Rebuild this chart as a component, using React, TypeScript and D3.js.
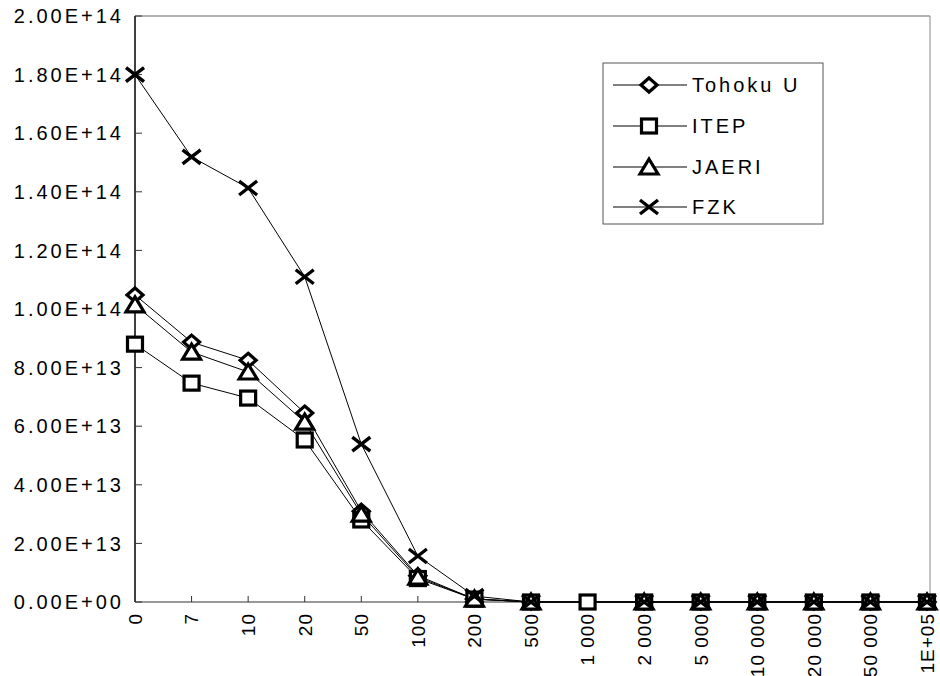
import React from "react";
import * as d3 from "d3";

const categories = ["0", "7", "10", "20", "50", "100", "200", "500", "1 000", "2 000", "5 000", "10 000", "20 000", "50 000", "1E+05"];
const tohoku: (number | null)[] = [1.048e14, 8.87e13, 8.25e13, 6.45e13, 3.1e13, 9.0e12, 1.0e12, 0, null, 0, 0, 0, 0, 0, 0];
const itep: (number | null)[] = [8.8e13, 7.47e13, 6.96e13, 5.53e13, 2.8e13, 8.0e12, 1.0e12, 0, 0, 0, 0, 0, 0, 0, 0];
const jaeri: (number | null)[] = [1.014e14, 8.53e13, 7.85e13, 6.14e13, 3.0e13, 8.5e12, 1.0e12, 0, null, 0, 0, 0, 0, 0, 0];
const fzk: (number | null)[] = [1.8e14, 1.519e14, 1.413e14, 1.11e14, 5.39e13, 1.57e13, 2.0e12, 0, null, 0, 0, 0, 0, 0, 0];
const yTickValues = [0, 2e13, 4e13, 6e13, 8e13, 1e14, 1.2e14, 1.4e14, 1.6e14, 1.8e14, 2e14];
const yTickLabels = ["0.00E+00", "2.00E+13", "4.00E+13", "6.00E+13", "8.00E+13", "1.00E+14", "1.20E+14", "1.40E+14", "1.60E+14", "1.80E+14", "2.00E+14"];
const seriesNames = ["Tohoku U", "ITEP", "JAERI", "FZK"];
const seriesMarkers = ["diamond", "square", "triangle", "cross"];
const seriesValues = [tohoku, itep, jaeri, fzk];

const W = 940, H = 676;
const left = 135, right = 928, top = 16, bottom = 602;
const FONT = "'Liberation Sans', Arial, Helvetica, sans-serif";

function Marker({ kind, x, y }: { kind: string; x: number; y: number }) {
  const sw = 3.2;
  if (kind === "diamond") {
    return <path d={`M${x},${y - 7} L${x + 8},${y} L${x},${y + 7} L${x - 8},${y} Z`} fill="#fff" stroke="#000" strokeWidth={sw} />;
  }
  if (kind === "square") {
    return <rect x={x - 7.5} y={y - 7} width={15} height={14} fill="#fff" stroke="#000" strokeWidth={sw} />;
  }
  if (kind === "triangle") {
    return <path d={`M${x},${y - 8} L${x + 9},${y + 7} L${x - 9},${y + 7} Z`} fill="#fff" stroke="#000" strokeWidth={sw} strokeLinejoin="miter" />;
  }
  return (
    <path d={`M${x - 9},${y - 7} L${x + 9},${y + 7} M${x - 9},${y + 7} L${x + 9},${y - 7}`} fill="none" stroke="#000" strokeWidth={3.4} />
  );
}

export default function App() {
  const x = d3.scalePoint<string>().domain(categories).range([left, right - 1]);
  const y = d3.scaleLinear().domain([0, 2e14]).range([bottom, top]);

  const line = d3
    .line<[string, number | null]>()
    .defined((d) => d[1] !== null)
    .x((d) => x(d[0]) as number)
    .y((d) => y(d[1] as number));

  const legendX = 603, legendY = 63, legendW = 220, legendH = 161;
  const legendRows = [85, 126, 167, 207].map((v, i) => ({ v, i }));

  return (
    <div style={{ position: "absolute", left: 0, top: 0 }}>
      <svg width={W} height={H} style={{ display: "block", background: "#fff" }} fontFamily={FONT}>
        <rect x={0} y={0} width={W} height={H} fill="#fff" />
        {/* plot frame */}
        <line x1={left} y1={top} x2={right + 2} y2={top} stroke="#666" strokeWidth={1} />
        <line x1={right + 2} y1={top} x2={right + 2} y2={bottom} stroke="#888" strokeWidth={1} />
        <line x1={left} y1={bottom} x2={right + 2} y2={bottom} stroke="#333" strokeWidth={1.2} />
        <line x1={left} y1={top} x2={left} y2={bottom} stroke="#000" strokeWidth={1.5} />

        {/* y ticks and labels */}
        {yTickValues.map((v, i) => (
          <g key={"yt" + i}>
            <line x1={left} x2={left + 7} y1={y(v)} y2={y(v)} stroke="#333" strokeWidth={1} />
            <text x={124} y={y(v)} dy="0.36em" textAnchor="end" fontSize={20} letterSpacing={3} fill="#000">
              {yTickLabels[i]}
            </text>
          </g>
        ))}

        {/* x ticks and labels */}
        {categories.map((c, i) => (
          <g key={"xt" + i}>
            {i > 0 && <line x1={x(c)} x2={x(c)} y1={bottom} y2={bottom - 6} stroke="#333" strokeWidth={1} />}
            <text
              transform={`translate(${x(c)},${bottom + 11}) rotate(-90)`}
              dy="0.36em"
              textAnchor="end"
              fontSize={19}
              letterSpacing={1}
              fill="#000"
            >
              {c}
            </text>
          </g>
        ))}

        {/* lines */}
        {seriesValues.map((vals, si) => {
          const pts = categories.map((c, i) => [c, vals[i]] as [string, number | null]).filter((d) => d[1] !== null);
          return <path key={"l" + si} d={line(pts) || ""} fill="none" stroke="#000" strokeWidth={1} />;
        })}

        {/* markers */}
        {seriesValues.map((vals, si) => (
          <g key={"m" + si}>
            {categories.map((c, i) =>
              vals[i] === null ? null : <Marker key={i} kind={seriesMarkers[si]} x={x(c) as number} y={y(vals[i] as number)} />
            )}
          </g>
        ))}

        {/* legend */}
        <rect x={legendX} y={legendY} width={legendW} height={legendH} fill="#fff" stroke="#555" strokeWidth={1} />
        {legendRows.map(({ v, i }) => (
          <g key={"lg" + i}>
            <line x1={613} x2={687} y1={v} y2={v} stroke="#000" strokeWidth={1} />
            <Marker kind={seriesMarkers[i]} x={649} y={v} />
            <text x={692} y={v} dy="0.36em" fontSize={20} letterSpacing={3} fill="#000">
              {seriesNames[i]}
            </text>
          </g>
        ))}
      </svg>
    </div>
  );
}
